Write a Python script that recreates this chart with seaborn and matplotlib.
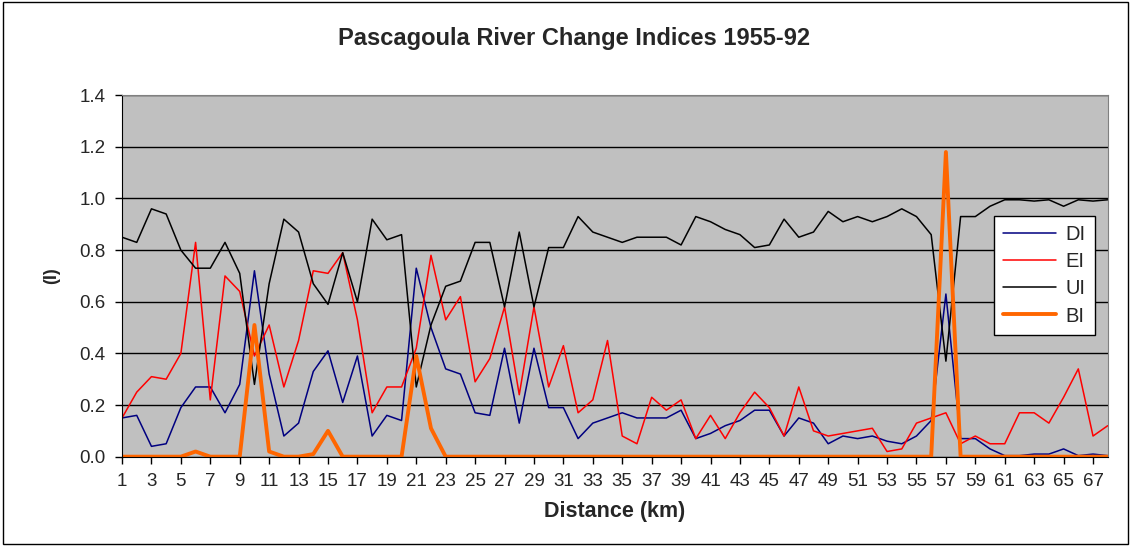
import matplotlib
matplotlib.use("Agg")
import matplotlib.pyplot as plt
import seaborn as sns
import pandas as pd
from matplotlib.patches import Rectangle

# distance along the river (km)
distance = list(range(1, 69))

di = [0.15, 0.16, 0.04, 0.05, 0.19, 0.27, 0.27, 0.17, 0.28, 0.72,
      0.32, 0.08, 0.13, 0.33, 0.41, 0.21, 0.39, 0.08, 0.16, 0.14,
      0.73, 0.50, 0.34, 0.32, 0.17, 0.16, 0.42, 0.13, 0.42, 0.19,
      0.19, 0.07, 0.13, 0.15, 0.17, 0.15, 0.15, 0.15, 0.18, 0.07,
      0.09, 0.12, 0.14, 0.18, 0.18, 0.08, 0.15, 0.13, 0.05, 0.08,
      0.07, 0.08, 0.06, 0.05, 0.08, 0.14, 0.63, 0.07, 0.07, 0.03,
      0.004, 0.004, 0.01, 0.01, 0.03, 0.004, 0.01, 0.004]
ei = [0.15, 0.25, 0.31, 0.30, 0.40, 0.83, 0.22, 0.70, 0.64, 0.39,
      0.51, 0.27, 0.45, 0.72, 0.71, 0.79, 0.53, 0.17, 0.27, 0.27,
      0.42, 0.78, 0.53, 0.62, 0.29, 0.38, 0.58, 0.24, 0.58, 0.27,
      0.43, 0.17, 0.22, 0.45, 0.08, 0.05, 0.23, 0.18, 0.22, 0.07,
      0.16, 0.07, 0.17, 0.25, 0.19, 0.08, 0.27, 0.10, 0.08, 0.09,
      0.10, 0.11, 0.02, 0.03, 0.13, 0.15, 0.17, 0.05, 0.08, 0.05,
      0.05, 0.17, 0.17, 0.13, 0.23, 0.34, 0.08, 0.12]
ui = [0.85, 0.83, 0.96, 0.94, 0.80, 0.73, 0.73, 0.83, 0.71, 0.28,
      0.67, 0.92, 0.87, 0.67, 0.59, 0.79, 0.60, 0.92, 0.84, 0.86,
      0.27, 0.51, 0.66, 0.68, 0.83, 0.83, 0.58, 0.87, 0.58, 0.81,
      0.81, 0.93, 0.87, 0.85, 0.83, 0.85, 0.85, 0.85, 0.82, 0.93,
      0.91, 0.88, 0.86, 0.81, 0.82, 0.92, 0.85, 0.87, 0.95, 0.91,
      0.93, 0.91, 0.93, 0.96, 0.93, 0.86, 0.37, 0.93, 0.93, 0.97,
      0.995, 0.995, 0.99, 0.995, 0.97, 0.995, 0.99, 0.995]
bi = [0, 0, 0, 0, 0, 0.02, 0, 0, 0, 0.51,
      0.02, 0, 0, 0.01, 0.10, 0, 0, 0, 0, 0,
      0.39, 0.11, 0, 0, 0, 0, 0, 0, 0, 0,
      0, 0, 0, 0, 0, 0, 0, 0, 0, 0,
      0, 0, 0, 0, 0, 0, 0, 0, 0, 0,
      0, 0, 0, 0, 0, 0, 1.18, 0, 0, 0,
      0, 0, 0, 0, 0, 0, 0, 0]

df = pd.DataFrame({"dist": distance, "DI": di, "EI": ei, "UI": ui, "BI": bi})

sns.set_style("white")
plt.rcParams["font.family"] = ["Liberation Sans", "DejaVu Sans"]

fig = plt.figure(figsize=(11.33, 5.46), dpi=100)
ax = fig.add_axes([0.1077, 0.1636, 0.870, 0.662])
ax.set_facecolor("#C0C0C0")

styles = {"DI": ("#000080", 1.1), "EI": ("#FF0000", 1.1),
          "UI": ("#000000", 1.1), "BI": ("#FF6600", 2.8)}
for name, (col, lw) in styles.items():
    sns.lineplot(data=df, x="dist", y=name, ax=ax, color=col, lw=lw, label=name)

ax.set_xlim(1, 68)
ax.set_ylim(0, 1.4)
ax.set_xticks(range(1, 68, 2))
yt = [0, 0.2, 0.4, 0.6, 0.8, 1.0, 1.2, 1.4]
ax.set_yticks(yt)
ax.set_yticklabels([f"{v:.1f}" for v in yt])
ax.tick_params(axis="both", labelsize=13.5, length=5, width=1, color="black",
               direction="out", left=True, bottom=True, pad=7)
ax.yaxis.grid(True, color="black", lw=1)
ax.set_axisbelow(True)
for side in ["top", "right"]:
    ax.spines[side].set_color("#808080")
for side in ["left", "bottom"]:
    ax.spines[side].set_color("black")

fig.text(0.507, 0.93, "Pascagoula River Change Indices 1955-92", fontsize=17,
         fontweight="bold", ha="center", va="center")
ax.set_xlabel("Distance (km)", fontsize=15.5, fontweight="bold", labelpad=8)
ax.set_ylabel("(I)", fontsize=13, fontweight="bold", labelpad=14)

leg = ax.legend(loc="upper left", bbox_to_anchor=(0.885, 0.665), fontsize=14.5,
                frameon=True, fancybox=False, edgecolor="black",
                facecolor="white", framealpha=1, handlelength=2.6,
                handletextpad=0.5, labelspacing=0.4, borderpad=0.45,
                borderaxespad=0)
leg.get_frame().set_linewidth(1)

fig.patches.append(Rectangle((0.003, 0.003), 0.993, 0.994, transform=fig.transFigure,
                             fill=False, edgecolor="black", lw=1))

fig.savefig("out.png", dpi=100)
